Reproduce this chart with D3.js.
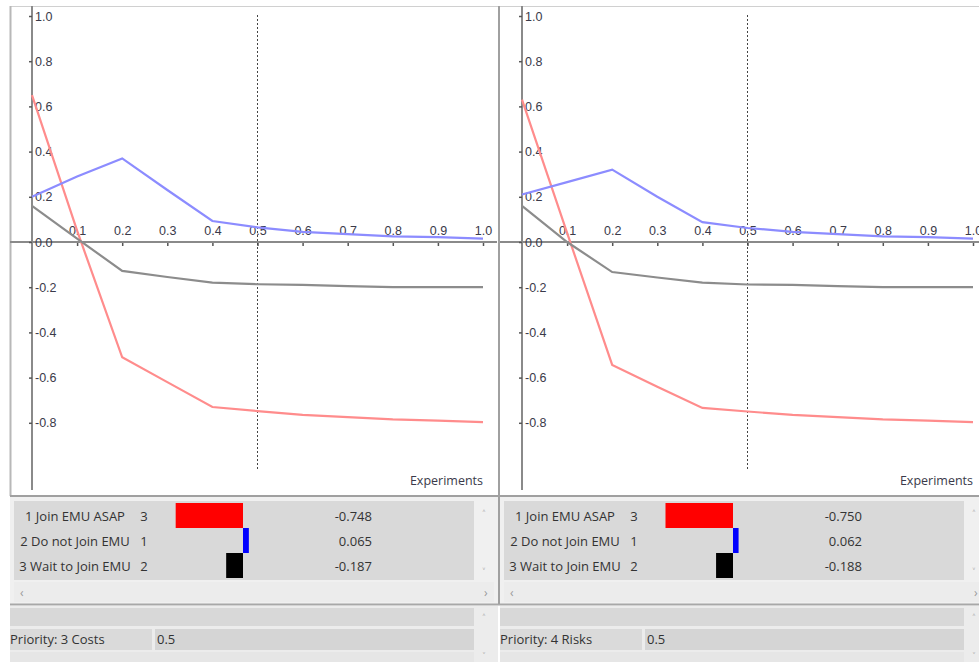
<!DOCTYPE html>
<html>
<head>
<meta charset="utf-8">
<script src="https://cdn.jsdelivr.net/npm/d3@7"></script>
<style>
  body { margin: 0; background: #fff; }
  svg { display: block; font-family: "Open Sans", "Noto Sans", sans-serif; }
  .tick text { fill: #3a3a4a; font-size: 12.5px; }
</style>
</head>
<body>
<svg id="chart" width="979" height="662"></svg>
<script>
// experiment positions (x axis) and tick labels
var xValues = [0, 0.1, 0.2, 0.3, 0.4, 0.5, 0.6, 0.7, 0.8, 0.9, 1.0];
var xTicks = [0.1, 0.2, 0.3, 0.4, 0.5, 0.6, 0.7, 0.8, 0.9, 1.0];
var yTicks = [-0.8, -0.6, -0.4, -0.2, 0.0, 0.2, 0.4, 0.6, 0.8, 1.0];

// alternatives
var alternatives = ["1 Join EMU ASAP", "2 Do not Join EMU", "3 Wait to Join EMU"];
var ranks = [3, 1, 2];
var colors = ["#ff8c8c", "#8c8cff", "#8c8c8c"];
var barColors = ["#ff0000", "#0000ff", "#000000"];

// panel 1 : priority 3 Costs
var costsAsap = [0.65, 0.05, -0.51, -0.62, -0.73, -0.748, -0.765, -0.775, -0.785, -0.79, -0.797];
var costsNot = [0.20, 0.29, 0.37, 0.23, 0.093, 0.065, 0.045, 0.035, 0.025, 0.022, 0.015];
var costsWait = [0.16, 0.015, -0.128, -0.155, -0.18, -0.187, -0.19, -0.195, -0.2, -0.2, -0.2];
var costsScores = [-0.748, 0.065, -0.187];

// panel 2 : priority 4 Risks
var risksAsap = [0.63, 0.04, -0.544, -0.64, -0.734, -0.750, -0.765, -0.775, -0.785, -0.79, -0.797];
var risksNot = [0.21, 0.265, 0.32, 0.2, 0.088, 0.062, 0.045, 0.035, 0.025, 0.022, 0.015];
var risksWait = [0.16, 0.0, -0.133, -0.157, -0.18, -0.188, -0.19, -0.195, -0.2, -0.2, -0.2];
var risksScores = [-0.750, 0.062, -0.188];

var priorities = ["Priority: 3 Costs", "Priority: 4 Risks"];
var weights = [0.5, 0.5];
var current = 0.5;

var panels = [
  { series: [costsAsap, costsNot, costsWait], scores: costsScores, label: priorities[0], weight: weights[0] },
  { series: [risksAsap, risksNot, risksWait], scores: risksScores, label: priorities[1], weight: weights[1] }
];

var svg = d3.select("#chart");
var txt = "#333";

function drawPanel(p, i) {
  var off = i * 490;
  var g = svg.append("g").attr("transform", "translate(" + off + ",0)");

  var x = d3.scaleLinear().domain([0, 1]).range([32, 483]);
  var y = d3.scaleLinear().domain([0, 1]).range([242, 16]);

  // chart frame
  g.append("rect").attr("x", 10).attr("y", 6).attr("width", 488).attr("height", 490)
    .attr("fill", "#fff");
  g.append("line").attr("x1", 10).attr("x2", 498).attr("y1", 6.5).attr("y2", 6.5)
    .attr("stroke", "#d0d0d0");
  if (i == 0) {
    g.append("line").attr("x1", 10.5).attr("x2", 10.5).attr("y1", 6).attr("y2", 496)
      .attr("stroke", "#b8b8b8").attr("stroke-width", 2);
  }

  // axes lines
  g.append("line").attr("x1", 10).attr("x2", 497).attr("y1", y(0)).attr("y2", y(0))
    .attr("stroke", "#8a8a8a").attr("stroke-width", 2);
  g.append("line").attr("x1", x(0)).attr("x2", x(0)).attr("y1", 6).attr("y2", 490)
    .attr("stroke", "#8a8a8a").attr("stroke-width", 2);

  // y axis labels to the right of axis
  var ya = g.append("g").attr("transform", "translate(" + x(0) + ",0)")
    .call(d3.axisRight(y).tickValues(yTicks).tickSize(0).tickPadding(3)
      .tickFormat(function(d){ return d.toFixed(1); }));
  ya.select(".domain").remove();
  ya.selectAll(".tick").append("line").attr("x1", -3).attr("x2", 0)
    .attr("stroke", "#555").attr("stroke-width", 1.5);

  // x axis labels above axis
  var xa = g.append("g").attr("transform", "translate(0," + y(0) + ")")
    .call(d3.axisTop(x).tickValues(xTicks).tickSize(0).tickPadding(7)
      .tickFormat(function(d){ return d.toFixed(1); }));
  xa.select(".domain").remove();
  xa.selectAll(".tick").append("line").attr("y1", 1).attr("y2", 4)
    .attr("stroke", "#555").attr("stroke-width", 1.5);

  // current weight marker
  g.append("line").attr("x1", x(current)).attr("x2", x(current)).attr("y1", 15).attr("y2", 470)
    .attr("stroke", "#444").attr("stroke-dasharray", "2,2");

  // sensitivity lines
  var line = d3.line().x(function(d, k){ return x(xValues[k]); }).y(function(d){ return y(d); });
  g.selectAll("path.series").data(p.series).enter().append("path")
    .attr("class", "series")
    .attr("d", line)
    .attr("fill", "none")
    .attr("stroke", function(d, k){ return colors[k]; })
    .attr("stroke-width", 2.2);

  g.append("text").attr("x", 483).attr("y", 485).attr("text-anchor", "end")
    .attr("font-size", 12.5).attr("fill", "#3a3a4a").text("Experiments");

  // results table
  g.append("rect").attr("x", 10).attr("y", 497).attr("width", 488).attr("height", 107).attr("fill", "#f0f0f0");
  g.append("rect").attr("x", 14).attr("y", 501).attr("width", 460).attr("height", 79).attr("fill", "#d9d9d9");
  g.append("rect").attr("x", 14).attr("y", 582).attr("width", 480).attr("height", 20).attr("fill", "#ececec");
  g.append("text").attr("x", 20).attr("y", 597).attr("font-size", 12).attr("fill", "#999").text("‹");
  g.append("text").attr("x", 484).attr("y", 597).attr("font-size", 12).attr("fill", "#999").text("›");
  g.append("text").attr("x", 484).attr("y", 518).attr("font-size", 10).attr("text-anchor", "middle").attr("fill", "#999").text("˄");
  g.append("text").attr("x", 484).attr("y", 576).attr("font-size", 10).attr("text-anchor", "middle").attr("fill", "#999").text("˅");

  var row = d3.scaleBand().domain(alternatives).range([503, 578]);
  var bar = d3.scaleLinear().domain([-1, 1]).range([243 - 90, 243 + 90]);

  var rows = g.selectAll("g.row").data(alternatives).enter().append("g").attr("class", "row")
    .attr("transform", function(d){ return "translate(0," + row(d) + ")"; });
  rows.append("rect")
    .attr("x", function(d, k){ return Math.min(bar(0), bar(p.scores[k])); })
    .attr("width", function(d, k){ return Math.abs(bar(p.scores[k]) - bar(0)); })
    .attr("height", row.bandwidth())
    .attr("fill", function(d, k){ return barColors[k]; });
  rows.append("text").attr("x", 75).attr("y", 17.5).attr("text-anchor", "middle")
    .attr("font-size", 13).attr("fill", txt).text(function(d){ return d; });
  rows.append("text").attr("x", 144).attr("y", 17.5).attr("text-anchor", "middle")
    .attr("font-size", 13).attr("fill", txt).text(function(d, k){ return ranks[k]; });
  rows.append("text").attr("x", 372).attr("y", 17.5).attr("text-anchor", "end")
    .attr("font-size", 13).attr("fill", txt).text(function(d, k){ return p.scores[k].toFixed(3); });

  // priority area
  g.append("rect").attr("x", 10).attr("y", 606).attr("width", 488).attr("height", 56).attr("fill", "#ececec");
  g.append("rect").attr("x", 10).attr("y", 608).attr("width", 464).attr("height", 18).attr("fill", "#d8d8d8");
  g.append("rect").attr("x", 10).attr("y", 629).attr("width", 142).attr("height", 21).attr("fill", "#dadada");
  g.append("rect").attr("x", 155).attr("y", 629).attr("width", 319).attr("height", 21).attr("fill", "#d5d5d5");
  g.append("rect").attr("x", 10).attr("y", 652).attr("width", 464).attr("height", 10).attr("fill", "#e6e6e6");
  g.append("text").attr("x", 484).attr("y", 622).attr("font-size", 10).attr("text-anchor", "middle").attr("fill", "#999").text("˄");
  g.append("text").attr("x", 484).attr("y", 659).attr("font-size", 9).attr("text-anchor", "middle").attr("fill", "#999").text("˅");
  g.append("text").attr("x", 10).attr("y", 644).attr("font-size", 13).attr("fill", txt).text(p.label);
  g.append("text").attr("x", 157).attr("y", 644).attr("font-size", 13).attr("fill", txt).text(p.weight);
}

panels.forEach(drawPanel);

// separators
svg.append("line").attr("x1", 10).attr("x2", 979).attr("y1", 496).attr("y2", 496)
  .attr("stroke", "#a0a0a0").attr("stroke-width", 2);
svg.append("line").attr("x1", 10).attr("x2", 979).attr("y1", 604.5).attr("y2", 604.5)
  .attr("stroke", "#a8a8a8").attr("stroke-width", 2);
svg.append("line").attr("x1", 499).attr("x2", 499).attr("y1", 6).attr("y2", 604)
  .attr("stroke", "#a0a0a0").attr("stroke-width", 2);
</script>
</body>
</html>
